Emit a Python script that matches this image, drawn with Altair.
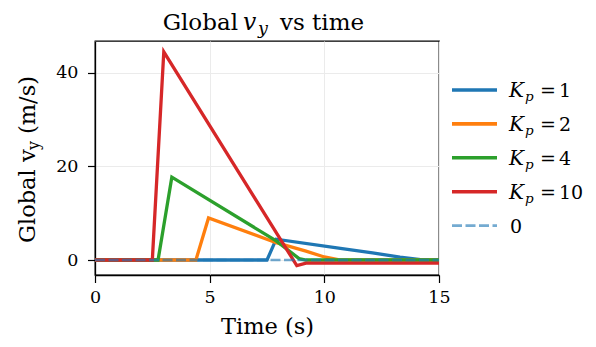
import altair as alt
import pandas as pd

# ---- data ----
t_kp1 = [0, 7.5, 7.9, 10.7, 12.1, 13.3, 14.2, 15]
v_kp1 = [0, 0, 4.45, 2.5, 1.55, 0.6, 0.1, 0]

t_kp2 = [0, 4.4, 4.95, 7.9, 9.2, 10.0, 10.6, 15]
v_kp2 = [0, 0, 9.0, 3.7, 1.9, 0.65, 0.1, 0]

t_kp4 = [0, 2.75, 3.35, 7.9, 8.9, 9.2, 15]
v_kp4 = [0, 0, 17.7, 4.1, 0.3, 0, 0]

t_kp10 = [0, 2.5, 3.0, 8.8, 9.2, 15]
v_kp10 = [0, 0, 44.5, -1.2, -0.65, -0.65]

t_zero = [0, 15]
v_zero = [0, 0]

kp_values = ["1", "2", "4", "10"]
series = ["Kp=1", "Kp=2", "Kp=4", "Kp=10", "0"]
colors = ["#1f77b4", "#ff7f0e", "#2ca02c", "#d62728", "#1f77b4"]
opacities = [1, 1, 1, 1, 0.62]
dashes = [[1, 0], [1, 0], [1, 0], [1, 0], [10, 3.5]]
widths = [3.3, 3.3, 3.3, 3.3, 2.4]

x_ticks = [0, 5, 10, 15]
y_ticks = [0, 20, 40]

title_parts = ["Global", "v", "y", "vs time"]
ytitle_parts = ["Global v", "y", "(m/s)"]
x_title = "Time (s)"

FONT = "DejaVu Serif"
W, H = 344, 234

rows = []
for i, (ts, vs) in enumerate([(t_kp1, v_kp1), (t_kp2, v_kp2), (t_kp4, v_kp4), (t_kp10, v_kp10)]):
    for t, v in zip(ts, vs):
        rows.append({"t": t, "v": v, "series": series[i]})
df_lines = pd.DataFrame(rows)
df_zero = pd.DataFrame({"t": t_zero, "v": v_zero, "series": series[4]})

x_enc = alt.X("t:Q", scale=alt.Scale(domain=[0, 15], nice=False, zero=False),
              axis=alt.Axis(values=x_ticks, title=x_title, labelFont=FONT, titleFont=FONT,
                            labelFontSize=17.5, titleFontSize=22.5, labelFlush=False))
y_enc = alt.Y("v:Q", scale=alt.Scale(domain=[-3.2, 46.8], nice=False, zero=False),
              axis=alt.Axis(values=y_ticks, title=None, labelFont=FONT, labelFontSize=17.5,
                            labelFlush=False))
color_enc = alt.Color("series:N", scale=alt.Scale(domain=series, range=colors), legend=None)

lines = alt.Chart(df_lines).mark_line(strokeWidth=widths[0]).encode(
    x=x_enc, y=y_enc, color=color_enc, detail="series:N", order="t:Q"
)
zero = alt.Chart(df_zero).mark_line(
    strokeWidth=widths[4], strokeDash=dashes[4], opacity=opacities[4]
).encode(x=x_enc, y=y_enc, color=color_enc)


def txt(s, x, y, size, italic=False, angle=0, align="left"):
    return alt.Chart(pd.DataFrame({"s": [s]})).mark_text(
        align=align, baseline="alphabetic", font=FONT, fontSize=size,
        fontStyle="italic" if italic else "normal", angle=angle, color="black",
    ).encode(x=alt.value(x), y=alt.value(y), text="s:N")


layers = [lines, zero]

# title: "Global v_y vs time"
layers += [
    txt(title_parts[0], 143, -11.5, 23, align="right"),
    txt(title_parts[1], 148, -11.5, 23.5, italic=True),
    txt(title_parts[2], 163, -7, 17.5, italic=True),
    txt(title_parts[3], 185, -11.5, 23),
]

# y-axis title: "Global v_y (m/s)" rotated
layers += [
    txt(ytitle_parts[0], -60, 202, 22.5, angle=270),
    txt(ytitle_parts[1], -56, 109, 16, angle=270),
    txt(ytitle_parts[2], -60, 93, 22.5, angle=270),
]

# legend
row0, step = 49, 33.9
for i, name in enumerate(series):
    yc = row0 + i * step
    layers.append(
        alt.Chart(pd.DataFrame({"series": [name]})).mark_rule(
            strokeWidth=widths[i] + 0.3, strokeDash=dashes[i], opacity=opacities[i]
        ).encode(x=alt.value(357), x2=alt.value(402), y=alt.value(yc),
                 color=alt.value(colors[i]))
    )
    if i < 4:
        layers += [
            txt("K", 414, yc + 7, 20, italic=True),
            txt("p", 430, yc + 11, 13.5, italic=True),
            txt("=", 445, yc + 7, 19),
            txt(kp_values[i], 464, yc + 7, 19),
        ]
    else:
        layers.append(txt(name, 415, yc + 7, 19))

chart = alt.layer(*layers).properties(
    width=W, height=H,
    autosize=alt.AutoSizeParams(type="none"),
    padding={"left": 87, "top": 33, "right": 580 - 87 - W, "bottom": 331 - 33 - H},
).configure_view(
    stroke="black", strokeWidth=1.3
).configure_axis(
    labelFont=FONT, titleFont=FONT, labelFontSize=17.5, titleFontSize=22.5,
    titleFontWeight="normal", labelColor="black", titleColor="black",
    domainColor="black", domainWidth=1.3, tickColor="black", tickSize=7.5, tickWidth=1.2,
    gridColor="#ebebeb", gridWidth=1, labelFlush=False,
).configure_axisX(labelPadding=6, titlePadding=9).configure_axisY(labelPadding=9.5)

chart.save("out.html", embed_options={"renderer": "svg", "actions": False})
